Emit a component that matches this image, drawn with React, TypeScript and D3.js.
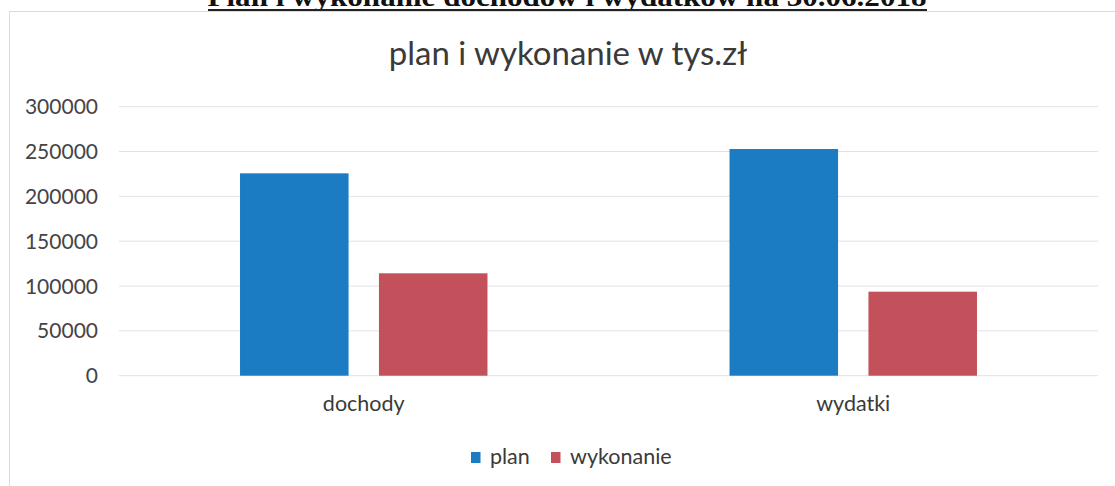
import React from "react";
import * as d3 from "d3";

const heading = "Plan i wykonanie dochodów i wydatków na 30.06.2018";
const title = "plan i wykonanie w tys.zł";
const categories = ["dochody", "wydatki"];
const seriesNames = ["plan", "wykonanie"];
const planValues = [225700, 252800];
const wykonanieValues = [114200, 93700];
const yTicks = [0, 50000, 100000, 150000, 200000, 250000, 300000];

const W = 1115;
const H = 486;
const colors = ["#1b7cc3", "#c2515b"];

export default function App() {
  const plot = { left: 119, right: 1098, top: 106.7, bottom: 375.7 };
  const x = d3.scaleBand<string>().domain(categories).range([plot.left, plot.right]).padding(0);
  const y = d3.scaleLinear().domain([0, 300000]).range([plot.bottom, plot.top]);
  const bw = x.bandwidth();
  const barW = bw / (2 + 2.23 + 0.28);
  const gap = barW * 0.28;
  const groupW = barW * 2 + gap;
  const inner = d3
    .scaleBand<string>()
    .domain(seriesNames)
    .range([(bw - groupW) / 2, (bw + groupW) / 2])
    .paddingInner(gap / (barW + gap));
  const data = [planValues, wykonanieValues];

  const sans = "Lato, 'Open Sans', sans-serif";
  return (
    <svg
      width={W}
      height={H}
      style={{ position: "absolute", left: 0, top: 0, background: "#fff" }}
    >
      <rect x={0} y={0} width={W} height={H} fill="#fff" />
      <text
        x={567}
        y={6}
        textAnchor="middle"
        fontFamily="'Liberation Serif', 'Times New Roman', serif"
        fontWeight="bold"
        fontSize={28}
        fill="#111"
        textLength={719}
        lengthAdjust="spacingAndGlyphs"
      >
        {heading}
      </text>
      <line x1={208} x2={927} y1={10} y2={10} stroke="#222" strokeWidth={2} />
      <rect x={9.5} y={11.5} width={1300} height={700} fill="none" stroke="#dcd9e4" strokeWidth={1} />
      <text x={568} y={65} textAnchor="middle" fontFamily={sans} fontSize={33} fill="#3a3a3a">
        {title}
      </text>
      {yTicks.map((t) => (
        <g key={t}>
          <line x1={plot.left} x2={plot.right} y1={y(t)} y2={y(t)} stroke="#e2e2e6" strokeWidth={1} />
          <text
            x={98}
            y={y(t)}
            dy="0.36em"
            textAnchor="end"
            fontFamily={sans}
            fontSize={21}
            fill="#444"
          >
            {t}
          </text>
        </g>
      ))}
      {categories.map((c, ci) => (
        <g key={c} transform={`translate(${x(c)},0)`}>
          {seriesNames.map((s, si) => (
            <rect
              key={s}
              x={inner(s)}
              y={y(data[si][ci])}
              width={inner.bandwidth()}
              height={y(0) - y(data[si][ci])}
              fill={colors[si]}
            />
          ))}
          <text x={bw / 2} y={411} textAnchor="middle" fontFamily={sans} fontSize={21.5} fill="#3a3a3a">
            {c}
          </text>
        </g>
      ))}
      {seriesNames.map((s, si) => {
        const lx = [471, 551][si];
        return (
          <g key={s}>
            <rect x={lx} y={452} width={9.5} height={11} fill={colors[si]} />
            <text x={lx + 19} y={464} fontFamily={sans} fontSize={21.5} fill="#3a3a3a">
              {s}
            </text>
          </g>
        );
      })}
    </svg>
  );
}
